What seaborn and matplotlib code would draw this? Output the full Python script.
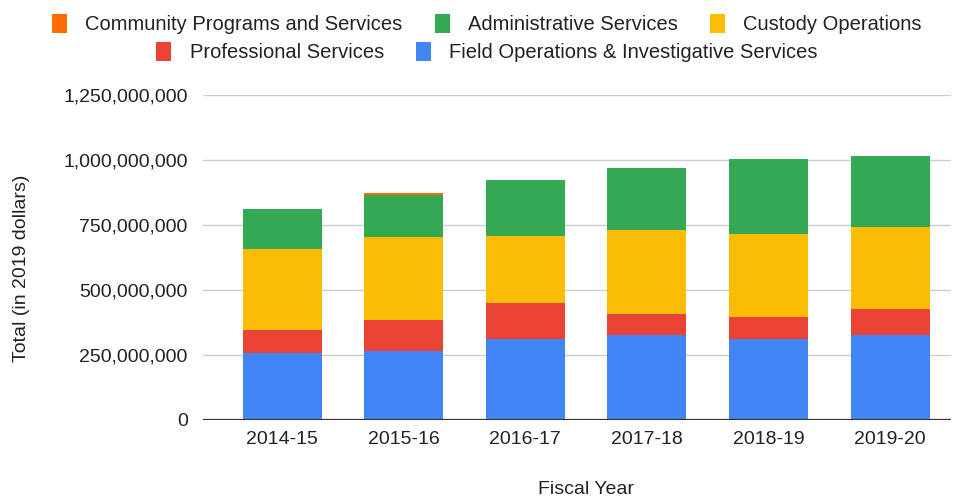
import numpy as np
import pandas as pd
import matplotlib
matplotlib.use("Agg")
import matplotlib.pyplot as plt
import matplotlib.ticker as mticker
from matplotlib.patches import Patch
import seaborn as sns

years = ["2014-15", "2015-16", "2016-17", "2017-18", "2018-19", "2019-20"]
field_ops = [259e6, 265e6, 311e6, 326e6, 313e6, 326e6]
professional = [87e6, 120e6, 138e6, 82e6, 82e6, 101e6]
custody = [310e6, 319e6, 260e6, 323e6, 322e6, 315e6]
administrative = [154e6, 161e6, 214e6, 238e6, 286e6, 274e6]
community = [0, 7e6, 0, 0, 0, 0]

series_names = ["Field Operations & Investigative Services", "Professional Services",
                "Custody Operations", "Administrative Services", "Community Programs and Services"]
series_vals = [field_ops, professional, custody, administrative, community]
colors = ["#4285F4", "#EA4335", "#FBBC04", "#34A853", "#FF6D01"]
yticks = [0, 250e6, 500e6, 750e6, 1000e6, 1250e6]

sns.set_theme(style="white")
plt.rcParams["font.family"] = ["Liberation Sans", "DejaVu Sans"]

fig = plt.figure(figsize=(9.6, 5.0), dpi=100)
ax = fig.add_axes([203/960, 80/500, (951-203)/960, (420-95)/500])

cum = np.cumsum(np.array(series_vals, dtype=float), axis=0)
# draw from the top layer down so lower layers overlay
for i in range(len(series_names) - 1, -1, -1):
    df = pd.DataFrame({"year": years, "val": cum[i]})
    sns.barplot(data=df, x="year", y="val", color=colors[i], saturation=1,
                width=0.65, linewidth=0, ax=ax, errorbar=None)

ax.set_ylim(0, 1250e6)
ax.set_xlim(-0.65, 5.5)
ax.set_yticks(yticks)
ax.yaxis.set_major_formatter(mticker.FuncFormatter(lambda v, p: f"{int(v):,}"))
ax.grid(axis="y", color="#cccccc", linewidth=1)
ax.set_axisbelow(True)
for s in ["top", "right", "left", "bottom"]:
    ax.spines[s].set_visible(False)
ax.axhline(0, color="#333333", linewidth=1.6, zorder=5)
ax.tick_params(axis="both", length=0, labelsize=14, colors="#222222")
ax.tick_params(axis="y", pad=11)
ax.tick_params(axis="x", pad=8)
ax.set_xlabel("")
ax.set_ylabel("")
fig.text(586/960, 1 - 490/500, "Fiscal Year", ha="center", va="center",
         fontsize=14, color="#222222")
fig.text(22/960, 1 - 268/500, "Total (in 2019 dollars)", ha="center", va="center",
         rotation=90, fontsize=14, color="#222222")

def handles(idx):
    return [Patch(facecolor=colors[i], edgecolor="none", label=series_names[i]) for i in idx]

kw = dict(frameon=False, fontsize=14.5, handlelength=0.75, handleheight=1.1,
          handletextpad=0.9, columnspacing=1.6, borderaxespad=0, labelcolor="#222222")
leg1 = fig.legend(handles=handles([4, 3, 2]), loc="center", ncol=3,
                  bbox_to_anchor=(487/960, 1 - 24/500), **kw)
leg2 = fig.legend(handles=handles([1, 0]), loc="center", ncol=2,
                  bbox_to_anchor=(487/960, 1 - 52/500), **kw)

fig.savefig("out.png", dpi=100)
